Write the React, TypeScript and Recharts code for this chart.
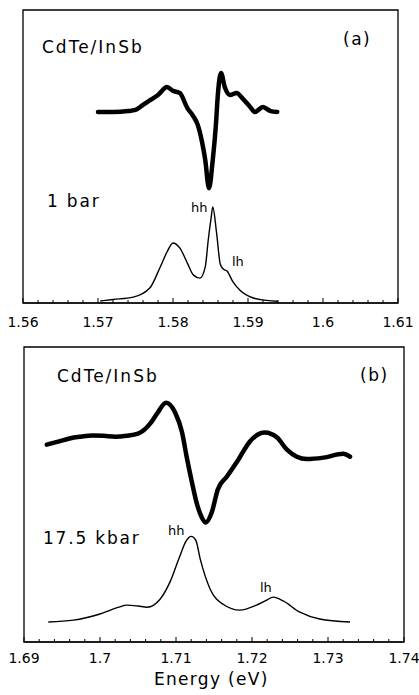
import { LineChart, Line, XAxis, YAxis, ReferenceArea } from "recharts";

// panel (a): 1 bar
const modA_energy = [
	1.57, 1.572, 1.574, 1.575, 1.576, 1.577, 1.578, 1.5792, 1.5800, 1.5809, 1.5819,
	1.5827, 1.5833, 1.5839, 1.5843, 1.5848, 1.5853, 1.5857, 1.586, 1.5864, 1.5869,
	1.5876, 1.5885, 1.5892, 1.5903, 1.5909, 1.592, 1.593, 1.5939,
];
const modA_signal = [
	65.2, 65.2, 65.5, 65.9, 67.6, 69.3, 71.0, 73.7, 72.4, 71.7, 66.6,
	63.8, 60.8, 54.6, 48.8, 39.2, 48.8, 60.1, 71.7, 78.5, 73.7,
	71.0, 71.7, 70.0, 66.9, 65.2, 66.9, 65.5, 65.2,
];
const absA_energy = [
	1.5703, 1.572, 1.5747, 1.5769, 1.5783, 1.5792, 1.58, 1.5809, 1.5819, 1.5827,
	1.5836, 1.5843, 1.5847, 1.5851, 1.5853, 1.5858, 1.5863, 1.5867, 1.5872,
	1.588, 1.5889, 1.5907, 1.5925, 1.594,
];
const absA_signal = [
	0.7, 1.2, 2.0, 5.1, 12.3, 17.4, 20.5, 18.8, 13.7, 9.6,
	8.5, 12.3, 21.5, 29.4, 32.8, 24.2, 13.3, 11.6, 10.9,
	7.2, 4.4, 1.7, 0.9, 0.6,
];

// panel (b): 17.5 kbar
const modB_energy = [
	1.693, 1.6945, 1.696, 1.6975, 1.699, 1.7005, 1.702, 1.7035, 1.705, 1.7066,
	1.7075, 1.7087, 1.7099, 1.7108, 1.7114, 1.7121, 1.7127, 1.7134, 1.7139, 1.7147,
	1.7155, 1.7167, 1.7182, 1.7197, 1.7217, 1.7233, 1.7246, 1.7259, 1.7272, 1.7294,
	1.732, 1.7329,
];
const modB_signal = [
	66.9, 67.9, 69.0, 69.6, 70.0, 69.9, 69.6, 69.9, 70.6, 74.0,
	77.4, 81.1, 77.7, 71.0, 62.8, 54.1, 47.3, 42.2, 40.5, 43.9,
	51.7, 56.1, 61.8, 67.9, 71.0, 69.3, 65.2, 62.8, 62.0, 62.5,
	63.8, 62.8,
];
const absB_energy = [
	1.6932, 1.6965, 1.7, 1.7025, 1.7035, 1.705, 1.7062, 1.7079, 1.7092, 1.7105,
	1.7113, 1.712, 1.7126, 1.7132, 1.7145, 1.7162, 1.7184, 1.7206, 1.7218, 1.7228,
	1.7241, 1.7263, 1.7289, 1.7329,
];
const absB_signal = [
	6.8, 7.4, 9.5, 11.8, 12.5, 12.2, 11.8, 14.5, 20.3, 29.1,
	34.1, 35.8, 34.5, 28.0, 17.9, 12.8, 10.8, 12.5, 14.0, 15.2,
	13.9, 10.1, 7.8, 6.8,
];

const ticksA_major = [1.56, 1.57, 1.58, 1.59, 1.6, 1.61];
const ticksA_labels = ["1.56", "1.57", "1.58", "1.59", "1.6", "1.61"];
const ticksB_major = [1.69, 1.7, 1.71, 1.72, 1.73, 1.74];
const ticksB_labels = ["1.69", "1.7", "1.71", "1.72", "1.73", "1.74"];

const FONT = "'DejaVu Sans', sans-serif";

function withMinor(majors: number[]) {
	const out: number[] = [];
	majors.forEach((m, i) => {
		out.push(m);
		if (i < majors.length - 1) {
			for (let k = 1; k < 5; k++) out.push(+(m + k * 0.002).toFixed(4));
		}
	});
	return out;
}

function makeTick(majors: number[], labels: string[], dy: number) {
	return (props: any) => {
		const { x, y, payload } = props;
		const idx = majors.findIndex((m) => Math.abs(m - payload.value) < 1e-6);
		const major = idx >= 0;
		return (
			<g>
				<line x1={x} x2={x} y1={y} y2={y - (major ? 5 : 3)} stroke="#000" strokeWidth={1} />
				{major && (
					<text x={x} y={y + dy} textAnchor="middle" fontSize={14} fontFamily={FONT} fill="#000">
						{labels[idx]}
					</text>
				)}
			</g>
		);
	};
}

const zip = (xs: number[], ys: number[]) => xs.map((e, i) => ({ e, v: ys[i] }));

function Panel({
	domain,
	majors,
	labels,
	mod,
	abs,
	height,
	margin,
	axisHeight,
	dy,
}: any) {
	return (
		<LineChart width={419} height={height} margin={margin}>
			<XAxis
				type="number"
				dataKey="e"
				domain={domain}
				ticks={withMinor(majors)}
				interval={0}
				tickSize={0}
				tickMargin={0}
				tickLine={false}
				height={axisHeight}
				stroke="#000"
				tick={makeTick(majors, labels, dy)}
			/>
			<YAxis type="number" domain={[0, 100]} hide />
			<ReferenceArea
				x1={domain[0]}
				x2={domain[1]}
				y1={0}
				y2={100}
				fill="none"
				stroke="#000"
				strokeWidth={1.3}
			/>
			<Line
				data={mod}
				dataKey="v"
				type="monotone"
				stroke="#000"
				strokeWidth={4.5}
				strokeLinejoin="round"
				strokeLinecap="round"
				dot={false}
				isAnimationActive={false}
			/>
			<Line
				data={abs}
				dataKey="v"
				type="monotone"
				stroke="#000"
				strokeWidth={1.4}
				dot={false}
				isAnimationActive={false}
			/>
		</LineChart>
	);
}

export default function App() {
	return (
		<div style={{ position: "absolute", left: 0, top: 0, width: 419, height: 695, background: "#fff" }}>
			<Panel
				domain={[1.56, 1.61]}
				majors={ticksA_major}
				labels={ticksA_labels}
				mod={zip(modA_energy, modA_signal)}
				abs={zip(absA_energy, absA_signal)}
				height={335}
				margin={{ top: 10, right: 21, bottom: 0, left: 23 }}
				axisHeight={32}
				dy={24}
			/>
			<div style={{ position: "absolute", left: 0, top: 335 }}>
				<Panel
					domain={[1.69, 1.74]}
					majors={ticksB_major}
					labels={ticksB_labels}
					mod={zip(modB_energy, modB_signal)}
					abs={zip(absB_energy, absB_signal)}
					height={360}
					margin={{ top: 12, right: 15, bottom: 0, left: 24 }}
					axisHeight={53}
					dy={21}
				/>
			</div>
			<svg
				width={419}
				height={695}
				style={{ position: "absolute", left: 0, top: 0, pointerEvents: "none" }}
				fontFamily={FONT}
				fill="#000"
			>
				<text x={42} y={53} fontSize={17} letterSpacing={2}>CdTe/InSb</text>
				<text x={343} y={45} fontSize={17} letterSpacing={1.5}>(a)</text>
				<text x={47} y={207} fontSize={17} letterSpacing={1.8}>1 bar</text>
				<text x={191} y={212} fontSize={13}>hh</text>
				<text x={232} y={266} fontSize={13}>lh</text>

				<text x={57} y={382} fontSize={17} letterSpacing={2}>CdTe/InSb</text>
				<text x={360} y={381} fontSize={17} letterSpacing={1.5}>(b)</text>
				<text x={43} y={544} fontSize={17} letterSpacing={1.8}>17.5 kbar</text>
				<text x={168} y={535} fontSize={13}>hh</text>
				<text x={260} y={592} fontSize={13}>lh</text>
				<text x={154} y={685} fontSize={17} letterSpacing={1.3}>Energy (eV)</text>
			</svg>
		</div>
	);
}
